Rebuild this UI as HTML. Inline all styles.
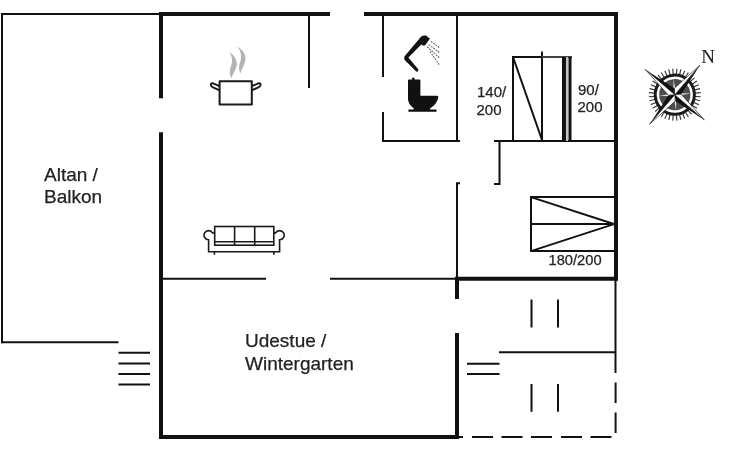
<!DOCTYPE html>
<html><head><meta charset="utf-8">
<style>
html,body{margin:0;padding:0;background:#fff;width:730px;height:450px;overflow:hidden}
svg{display:block;will-change:transform}
text{font-family:"Liberation Sans",sans-serif;fill:#222;stroke:#222;stroke-width:0.25px}
</style></head>
<body>
<svg width="730" height="450" viewBox="0 0 730 450">
<g stroke="#111" fill="none" stroke-linecap="butt">
 <!-- thick walls -->
 <g stroke-width="4">
  <path d="M159 14H330"/>
  <path d="M364 14H618"/>
  <path d="M161 12V98.3"/>
  <path d="M161 132.3V439"/>
  <path d="M159 437H459"/>
  <path d="M616 12V280.5"/>
  <path d="M455 278.7H618"/>
  <path d="M457 277V299"/>
  <path d="M457 333V439"/>
 </g>
 <!-- thin lines -->
 <g stroke-width="2">
  <path d="M1 14H159"/>
  <path d="M2 13V343.3"/>
  <path d="M1 342.3H118.5"/>
  <path d="M118.5 352.7H150M118.5 363.4H150M118.5 373.9H150M118.5 384.6H150"/>
  <path d="M309 14V88"/>
  <path d="M383 14V77"/>
  <path d="M383 112V142"/>
  <path d="M382 141H460"/>
  <path d="M457 14V141"/>
  <path d="M494 141H616"/>
  <path d="M499.5 141V184H494"/>
  <path d="M460 183.2H457V278"/>
  <path d="M162 278.7H266"/>
  <path d="M330 278.7H457"/>
  <path d="M513 57H542V141M513 56V141"/>
  <path d="M513 57L542 140"/>
  <path d="M542 51.5V141"/>
  <path d="M542 57H572" stroke="#444"/>
  <path d="M564 57V141" stroke-width="4"/>
  <path d="M567.1 57V141" stroke="#c4c4c8" stroke-width="2.3"/>
  <path d="M570 57V141" stroke-width="3"/>
  <path d="M531 197.1H614M531 224.1H614M531 251.1H614M531 196.1V252.1"/>
  <path d="M531 197.1L614 224.1L531 251.1"/>
  <path d="M615.5 280V373"/>
  <path d="M499 352.3H615.5"/>
  <path d="M467 363.8H499.5M467 374H499.5"/>
  <path d="M531.5 299.5V327.6M558 299.5V327.6"/>
  <path d="M531.5 384V411.7M558 384V411.7"/>
  <path d="M615.6 382.5V403M615.6 412.5V433"/>
  <path d="M459 437H463M472 437H493M501.5 437H522.5M531 437H552M561 437H582M590.5 437H611.5"/>
 </g>
</g>
<!-- pot -->
<g fill="none" stroke="#1a1a1a" stroke-width="2" stroke-linejoin="round">
 <rect x="219.6" y="81.3" width="32.2" height="23.2"/>
 <path d="M219.6 86.2L213 83.3Q210.6 82.6 210.9 85.2Q211.3 86.6 213 87.3L219.6 90.3"/>
 <path d="M251.8 86.2L258.4 83.3Q260.8 82.6 260.5 85.2Q260.1 86.6 258.4 87.3L251.8 90.3"/>
</g>
<g fill="#b4b4b4">
 <path d="M229 52C234 55 238 60 236.6 66C235.6 71 232.3 74 231.6 78.5C229.4 75 229 71 231 66C233 61 232.2 56 229 52Z"/>
 <path d="M237.5 46.5C243 50 246.6 55 245.2 61C244.2 66 241.2 69 240.6 73.5C238.5 70 238.5 66 240.5 61C242 56 240.7 51 237.5 46.5Z"/>
</g>
<!-- shower -->
<path fill="#111" d="M416.2 71.6L404.7 60.1Q403.6 58.2 404.6 56.2L421.2 36.6Q423.5 34.9 426 35.6L429.9 38.8L424.9 45.5L422.6 45.4L421.3 44.5L408.4 57.4L418.4 69.4Q418.6 71.9 416.2 71.6Z"/>
<g stroke="#666" stroke-width="1.1" stroke-dasharray="1.8 1.1" fill="none">
 <path d="M431 41.5L438.8 47"/>
 <path d="M428.8 44.6L438.8 52"/>
 <path d="M427.2 46.8L438.8 57.3"/>
 <path d="M430 51.5L438.8 64"/>
</g>
<g fill="#666"><circle cx="438.6" cy="47" r="0.8"/><circle cx="438.6" cy="52" r="0.8"/><circle cx="438.6" cy="57.3" r="0.8"/><circle cx="438.6" cy="64" r="0.8"/></g>
<!-- toilet -->
<path fill="#111" d="M408 80.5Q408 79.5 409 79.5H412.1V78.3Q412.1 77.4 413.3 77.4Q414.6 77.4 414.6 78.3V79.5H419.5Q420.4 79.5 420.4 80.5V95.8H437Q438.6 95.8 438.3 97.5Q437 104 430 108.5L430 109.5H436.5V111.7H408.4V109.5H413.5L413.8 108.5Q408 104 408 99Z"/>
<!-- sofa -->
<g fill="none" stroke="#1a1a1a" stroke-width="1.6">
 <rect x="214.7" y="226.5" width="59.1" height="18.7"/>
 <path d="M214.7 241.8H273.8M234.6 226.5V245.2M254.7 226.5V245.2"/>
 <path d="M214.7 232.9H212.6A4.6 4.6 0 1 0 208.6 239.8V251.7H279.6V239.8A4.6 4.6 0 1 0 275.6 232.9H273.8"/>
 <path d="M214.4 251.7V254.8M273.8 251.7V254.8"/>
</g>
<!-- compass -->
<g transform="translate(674.8 94.7) rotate(40.5)">
 <g stroke="#3a3a3a" stroke-width="1.15"><path d="M0 -20.5V-26" transform="rotate(0.00)"/><path d="M0 -20.5V-26" transform="rotate(9.00)"/><path d="M0 -20.5V-26" transform="rotate(18.00)"/><path d="M0 -20.5V-26" transform="rotate(27.00)"/><path d="M0 -20.5V-26" transform="rotate(36.00)"/><path d="M0 -20.5V-26" transform="rotate(45.00)"/><path d="M0 -20.5V-26" transform="rotate(54.00)"/><path d="M0 -20.5V-26" transform="rotate(63.00)"/><path d="M0 -20.5V-26" transform="rotate(72.00)"/><path d="M0 -20.5V-26" transform="rotate(81.00)"/><path d="M0 -20.5V-26" transform="rotate(90.00)"/><path d="M0 -20.5V-26" transform="rotate(99.00)"/><path d="M0 -20.5V-26" transform="rotate(108.00)"/><path d="M0 -20.5V-26" transform="rotate(117.00)"/><path d="M0 -20.5V-26" transform="rotate(126.00)"/><path d="M0 -20.5V-26" transform="rotate(135.00)"/><path d="M0 -20.5V-26" transform="rotate(144.00)"/><path d="M0 -20.5V-26" transform="rotate(153.00)"/><path d="M0 -20.5V-26" transform="rotate(162.00)"/><path d="M0 -20.5V-26" transform="rotate(171.00)"/><path d="M0 -20.5V-26" transform="rotate(180.00)"/><path d="M0 -20.5V-26" transform="rotate(189.00)"/><path d="M0 -20.5V-26" transform="rotate(198.00)"/><path d="M0 -20.5V-26" transform="rotate(207.00)"/><path d="M0 -20.5V-26" transform="rotate(216.00)"/><path d="M0 -20.5V-26" transform="rotate(225.00)"/><path d="M0 -20.5V-26" transform="rotate(234.00)"/><path d="M0 -20.5V-26" transform="rotate(243.00)"/><path d="M0 -20.5V-26" transform="rotate(252.00)"/><path d="M0 -20.5V-26" transform="rotate(261.00)"/><path d="M0 -20.5V-26" transform="rotate(270.00)"/><path d="M0 -20.5V-26" transform="rotate(279.00)"/><path d="M0 -20.5V-26" transform="rotate(288.00)"/><path d="M0 -20.5V-26" transform="rotate(297.00)"/><path d="M0 -20.5V-26" transform="rotate(306.00)"/><path d="M0 -20.5V-26" transform="rotate(315.00)"/><path d="M0 -20.5V-26" transform="rotate(324.00)"/><path d="M0 -20.5V-26" transform="rotate(333.00)"/><path d="M0 -20.5V-26" transform="rotate(342.00)"/><path d="M0 -20.5V-26" transform="rotate(351.00)"/></g>
 <circle r="19.6" fill="#fff" stroke="#1a1a1a" stroke-width="3"/>
 <circle r="15.6" fill="#4d4d4d"/>
 <g fill="#e8e8e8">
  <path d="M0 -16L1.3 -1.3L0 0L-1.3 -1.3Z" transform="rotate(45)"/>
  <path d="M0 -16L1.3 -1.3L0 0L-1.3 -1.3Z" transform="rotate(135)"/>
  <path d="M0 -16L1.3 -1.3L0 0L-1.3 -1.3Z" transform="rotate(225)"/>
  <path d="M0 -16L1.3 -1.3L0 0L-1.3 -1.3Z" transform="rotate(315)"/>
 </g>
 <g transform="rotate(0)"><path d="M0 -38.8L4.5 -4.5L0 0Z" fill="#111"/><path d="M0 -38.8L-4.5 -4.5L0 0Z" fill="#fff" stroke="#111" stroke-width="0.6"/></g><g transform="rotate(90)"><path d="M0 -38.8L4.5 -4.5L0 0Z" fill="#111"/><path d="M0 -38.8L-4.5 -4.5L0 0Z" fill="#fff" stroke="#111" stroke-width="0.6"/></g><g transform="rotate(180)"><path d="M0 -38.8L4.5 -4.5L0 0Z" fill="#111"/><path d="M0 -38.8L-4.5 -4.5L0 0Z" fill="#fff" stroke="#111" stroke-width="0.6"/></g><g transform="rotate(270)"><path d="M0 -38.8L4.5 -4.5L0 0Z" fill="#111"/><path d="M0 -38.8L-4.5 -4.5L0 0Z" fill="#fff" stroke="#111" stroke-width="0.6"/></g>
</g>
<text x="44" y="180.5" font-size="19">Altan /</text>
<text x="44" y="202.8" font-size="19">Balkon</text>
<text x="245" y="347.1" font-size="19">Udestue /</text>
<text x="245" y="369.7" font-size="19">Wintergarten</text>
<text x="477" y="96.5" font-size="15">140/</text>
<text x="476.5" y="114.5" font-size="15">200</text>
<text x="578" y="94.5" font-size="15">90/</text>
<text x="577.5" y="112.3" font-size="15">200</text>
<text x="548.5" y="265.3" font-size="14.7">180/200</text>
<text x="701.3" y="62.8" font-size="19" style="font-family:'Liberation Serif',serif;stroke-width:0.1px">N</text>
</svg>
</body></html>
